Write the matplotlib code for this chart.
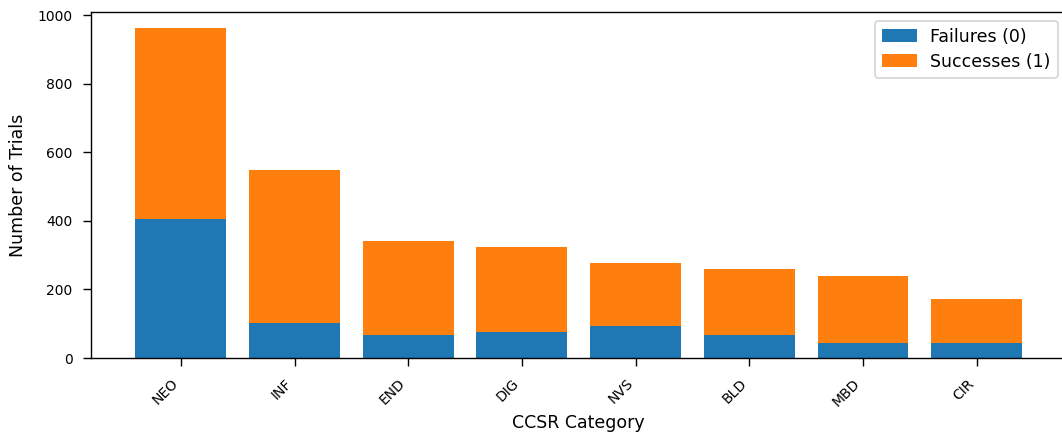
import matplotlib
matplotlib.use("Agg")
import matplotlib.pyplot as plt
import numpy as np

# trial counts per CCSR category
categories = ['NEO', 'INF', 'END', 'DIG', 'NVS', 'BLD', 'MBD', 'CIR']
failures = [406, 103, 66, 76, 93, 67, 44, 44]
successes = [556, 447, 275, 247, 183, 193, 196, 128]

W, H = 1062, 441
fig = plt.figure(figsize=(W / 125, H / 125), dpi=125)
# axes run a little past the right edge of the canvas
ax = fig.add_axes([91 / W, 1 - 358 / H, 975.5 / W, 346 / H])

x = np.arange(len(categories))
ax.bar(x, failures, label='Failures (0)', color='#1f77b4')
ax.bar(x, successes, bottom=failures, label='Successes (1)', color='#ff7f0e')

ax.set_xticks(x)
ax.set_xticklabels(categories, rotation=45, ha='right')
ax.tick_params(labelsize=8, length=4.6, pad=6)
ax.set_yticks([0, 200, 400, 600, 800, 1000])
ax.set_xlabel('CCSR Category', fontsize=10, labelpad=3)
ax.set_ylabel('Number of Trials', fontsize=10, labelpad=6)
ax.legend(fontsize=10, loc='upper right', labelspacing=0.4)

fig.savefig('out.png', dpi=125)
